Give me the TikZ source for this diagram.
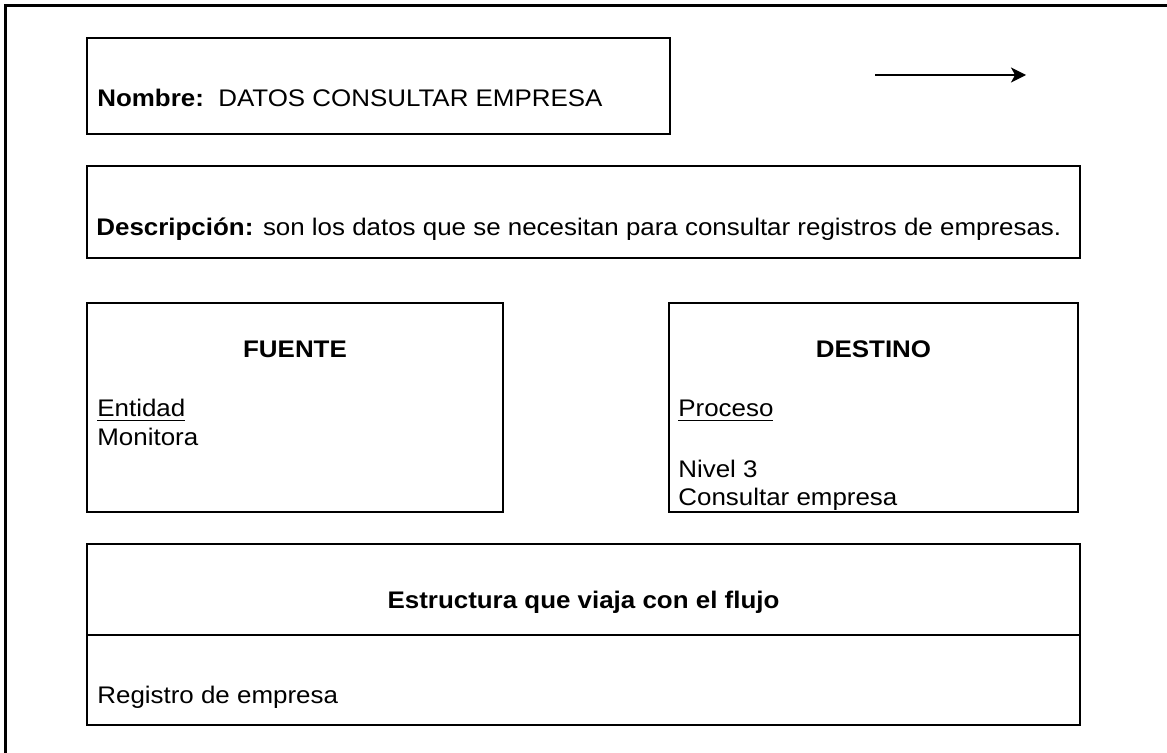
\documentclass[tikz,border=0pt]{standalone}
\usepackage{fontspec}
\setmainfont[FakeStretch=1.08]{Liberation Sans}
\usetikzlibrary{arrows.meta, positioning, fit}
\tikzstyle{caja} = [draw, line width=1.4pt, inner sep=0pt]
\tikzstyle{texto} = [anchor=base west, inner sep=0pt,
  font=\fontsize{12}{14}\selectfont]
\tikzstyle{titulo} = [anchor=base, inner sep=0pt,
  font=\fontsize{12}{14}\selectfont\bfseries]
\tikzstyle{flecha} = [-{Stealth[length=7.5pt, width=7.5pt, inset=2pt]}, line width=0.8pt]

\begin{document}
\begin{tikzpicture}[x=0.5pt, y=-0.5pt]
  \useasboundingbox (0,0) rectangle (1167,753);

  % Marco exterior
  \coordinate (marcoA) at (5,753);
  \coordinate (marcoB) at (1167,6);
  \draw[line width=1.5pt] (marcoA) |- (marcoB);

  % Nombre
  \node[caja, fit={(87,38) (670,134)}] (nombre) {};
  \node[texto] (nombreTxt) at (97,107)
    {\textbf{Nombre:}\ \ DATOS CONSULTAR EMPRESA};

  % Flecha
  \coordinate (flechaA) at (875,75);
  \coordinate (flechaB) at (1026,75);
  \draw[flecha] (flechaA) -- (flechaB);

  % Descripcion
  \node[caja, fit={(87,166) (1080,258)}] (desc) {};
  \node[texto] (descTxt) at (96,236)
    {\textbf{Descripción:} son los datos que se necesitan para consultar registros de empresas.};

  % Fuente
  \node[caja, fit={(87,303) (503,512)}] (fuente) {};
  \node[titulo] (fuenteTit) at (fuente.center |- 0,358) {FUENTE};
  \node[texto] (entidad) at (97,417) {\underline{Entidad}};
  \node[texto] (monitora) at (97,445) {Monitora};

  % Destino
  \node[caja, fit={(669,303) (1078,512)}] (destino) {};
  \node[titulo] (destinoTit) at (destino.center |- 0,358) {DESTINO};
  \node[texto] (proceso) at (678,417) {\underline{Proceso}};
  \node[texto] (nivel) at (678,477) {Nivel 3};
  \node[texto] (consultar) at (678,505) {Consultar empresa};

  % Estructura
  \node[caja, fit={(87,544) (1080,725)}] (estructura) {};
  \coordinate (divA) at (87,635);
  \coordinate (divB) at (1080,635);
  \draw[line width=1.4pt] (divA) -- (divB);
  \node[titulo] (estructuraTit) at (estructura.center |- 0,608) {Estructura que viaja con el flujo};
  \node[texto] (registro) at (97,703) {Registro de empresa};

\end{tikzpicture}
\end{document}
